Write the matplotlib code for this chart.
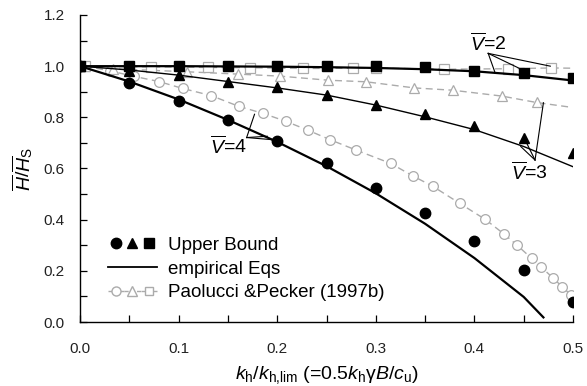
import matplotlib
matplotlib.use("Agg")
import matplotlib.pyplot as plt
from matplotlib.lines import Line2D
from matplotlib.legend_handler import HandlerTuple
from matplotlib.ticker import MultipleLocator

plt.rcParams['font.family'] = ['Liberation Sans', 'DejaVu Sans']
plt.rcParams['mathtext.fontset'] = 'custom'
plt.rcParams['mathtext.rm'] = 'Liberation Sans'
plt.rcParams['mathtext.it'] = 'Liberation Sans:italic'
plt.rcParams['mathtext.bf'] = 'Liberation Sans:bold'

# ---- Upper bound (black markers) ----
ub_x = [0.0, 0.05, 0.10, 0.15, 0.20, 0.25, 0.30, 0.35, 0.40, 0.45, 0.50]
ub_v4 = [1.0, 0.936, 0.865, 0.789, 0.708, 0.620, 0.525, 0.425, 0.316, 0.203, 0.080]
ub_v3 = [1.0, 0.980, 0.965, 0.940, 0.917, 0.888, 0.850, 0.812, 0.766, 0.721, 0.661]
ub_v2 = [1.0, 1.0, 1.0, 1.0, 1.0, 1.0, 1.0, 0.998, 0.982, 0.974, 0.955]

# ---- Empirical equations (black lines) ----
emp_x4 = [0.0, 0.05, 0.10, 0.15, 0.20, 0.25, 0.30, 0.35, 0.40, 0.45, 0.47]
emp_v4 = [1.0, 0.940, 0.870, 0.790, 0.704, 0.609, 0.503, 0.384, 0.250, 0.098, 0.018]
emp_x = [0.0, 0.05, 0.10, 0.15, 0.20, 0.25, 0.30, 0.35, 0.40, 0.45, 0.50]
emp_v3 = [1.0, 0.985, 0.965, 0.940, 0.915, 0.887, 0.848, 0.802, 0.752, 0.686, 0.607]
emp_v2 = [1.0, 1.0, 1.0, 0.999, 0.998, 0.996, 0.993, 0.988, 0.980, 0.965, 0.944]

# ---- Paolucci & Pecker (1997b) (gray dashed, open markers) ----
pp_x4 = [0.005, 0.03, 0.055, 0.08, 0.104, 0.133, 0.161, 0.186, 0.209, 0.231, 0.254,
         0.28, 0.315, 0.338, 0.358, 0.385, 0.411, 0.43, 0.443, 0.458, 0.468, 0.48,
         0.489, 0.498]
pp_v4 = [1.0, 0.982, 0.960, 0.940, 0.913, 0.885, 0.843, 0.815, 0.784, 0.750, 0.712,
         0.672, 0.620, 0.570, 0.530, 0.464, 0.401, 0.344, 0.301, 0.249, 0.214, 0.171,
         0.138, 0.105]
pp_x3 = [0.005, 0.033, 0.109, 0.16, 0.203, 0.252, 0.29, 0.339, 0.378, 0.428, 0.463, 0.495]
pp_v3 = [1.0, 0.990, 0.978, 0.969, 0.961, 0.945, 0.939, 0.915, 0.906, 0.883, 0.858, 0.841]
pp_x2 = [0.005, 0.072, 0.13, 0.172, 0.226, 0.277, 0.30, 0.369, 0.434, 0.478, 0.50]
pp_v2 = [1.0, 0.997, 0.995, 0.994, 0.991, 0.992, 0.993, 0.988, 0.990, 0.993, 0.992]

GRAY = '#ababab'

fig = plt.figure(figsize=(5.87, 3.86), dpi=100)
ax = fig.add_axes([80/587, 1-322/386, 493/587, 307/386])

# Paolucci dashed gray
dash = (0, (5, 3.2))
pk = dict(color=GRAY, lw=1.0, linestyle=dash, mfc='white', mec=GRAY, mew=0.9, zorder=2)
ax.plot(pp_x4, pp_v4, marker='o', ms=7, **pk)
ax.plot(pp_x3, pp_v3, marker='^', ms=7, markevery=list(range(len(pp_x3)-1)), **pk)
ax.plot(pp_x2, pp_v2, marker='s', ms=6.5, markevery=list(range(len(pp_x2)-1)), **pk)

# empirical lines
ax.plot(emp_x4, emp_v4, color='black', lw=1.6, zorder=3)
ax.plot(emp_x, emp_v3, color='black', lw=1.0, zorder=3)
ax.plot(emp_x, emp_v2, color='black', lw=1.6, zorder=3)

# upper bound markers
ax.plot(ub_x, ub_v4, 'o', color='black', ms=7.5, zorder=4)
ax.plot(ub_x, ub_v3, '^', color='black', ms=7.5, zorder=4)
ax.plot(ub_x, ub_v2, 's', color='black', ms=7, zorder=5)

# annotations
def annot(txt, tx, ty, apex, ends):
    ax.text(tx, ty, txt, fontsize=14, ha='center', va='center', zorder=6)
    for e in ends:
        ax.plot([apex[0], e[0]], [apex[1], e[1]], color='black', lw=0.8, zorder=6)

annot(r'$\overline{V}$=2', 0.414, 1.088, (0.414, 1.050),
      [(0.421, 0.974), (0.448, 0.987), (0.477, 1.0)])
annot(r'$\overline{V}$=3', 0.456, 0.585, (0.4615, 0.633),
      [(0.470, 0.857), (0.447, 0.686), (0.451, 0.715)])
annot(r'$\overline{V}$=4', 0.150, 0.688, (0.169, 0.721),
      [(0.177, 0.812), (0.200, 0.711), (0.190, 0.726)])

ax.set_xlim(0, 0.5)
ax.set_ylim(0, 1.2)
ax.xaxis.set_major_locator(MultipleLocator(0.1))
ax.xaxis.set_minor_locator(MultipleLocator(0.05))
ax.yaxis.set_major_locator(MultipleLocator(0.2))
ax.yaxis.set_minor_locator(MultipleLocator(0.1))
ax.set_xticklabels([f'{v:.1f}' for v in ax.get_xticks()])
ax.set_yticklabels([f'{v:.1f}' for v in ax.get_yticks()])
for s in ['top', 'right']:
    ax.spines[s].set_visible(False)
for s in ['left', 'bottom']:
    ax.spines[s].set_linewidth(1.0)
ax.tick_params(which='both', direction='in', length=5, width=0.9, colors='black',
               labelsize=11, labelcolor='#222222')
ax.tick_params(axis='x', which='both', pad=14.5)
ax.tick_params(axis='y', which='both', pad=11)

ax.set_xlabel(r'$k_\mathrm{h}/k_\mathrm{h{,}lim}$ (=0.5$k_\mathrm{h}\mathrm{\gamma}B/c_\mathrm{u}$)',
              fontsize=14, labelpad=5.5)
ax.set_ylabel(r'$\overline{H}/\overline{H}_\mathrm{S}$', fontsize=14, labelpad=6)

# legend
h_ub = (Line2D([], [], marker='o', color='black', ls='none', ms=7.5),
        Line2D([], [], marker='^', color='black', ls='none', ms=7.5),
        Line2D([], [], marker='s', color='black', ls='none', ms=7))
h_emp = Line2D([], [], color='black', lw=1.3)
ls_leg = (0, (3, 1.5))
h_pp = (Line2D([], [], marker='o', ms=6.5, color=GRAY, ls=ls_leg, lw=1.0, mfc='white', mec=GRAY),
        Line2D([], [], marker='^', ms=6.5, color=GRAY, ls=ls_leg, lw=1.0, mfc='white', mec=GRAY),
        Line2D([], [], marker='s', ms=6, color=GRAY, ls=ls_leg, lw=1.0, mfc='white', mec=GRAY))
leg = ax.legend([h_ub, h_emp, h_pp], ['Upper Bound', 'empirical Eqs', 'Paolucci &Pecker (1997b)'],
                handler_map={tuple: HandlerTuple(ndivide=None, pad=0)},
                loc='center left', bbox_to_anchor=((108-80)/493, (322-269)/307),
                frameon=False, fontsize=13.5, handlelength=2.6, handletextpad=0.59,
                labelspacing=0.36, borderpad=0, borderaxespad=0, numpoints=1)

fig.savefig('out.png', dpi=100)
